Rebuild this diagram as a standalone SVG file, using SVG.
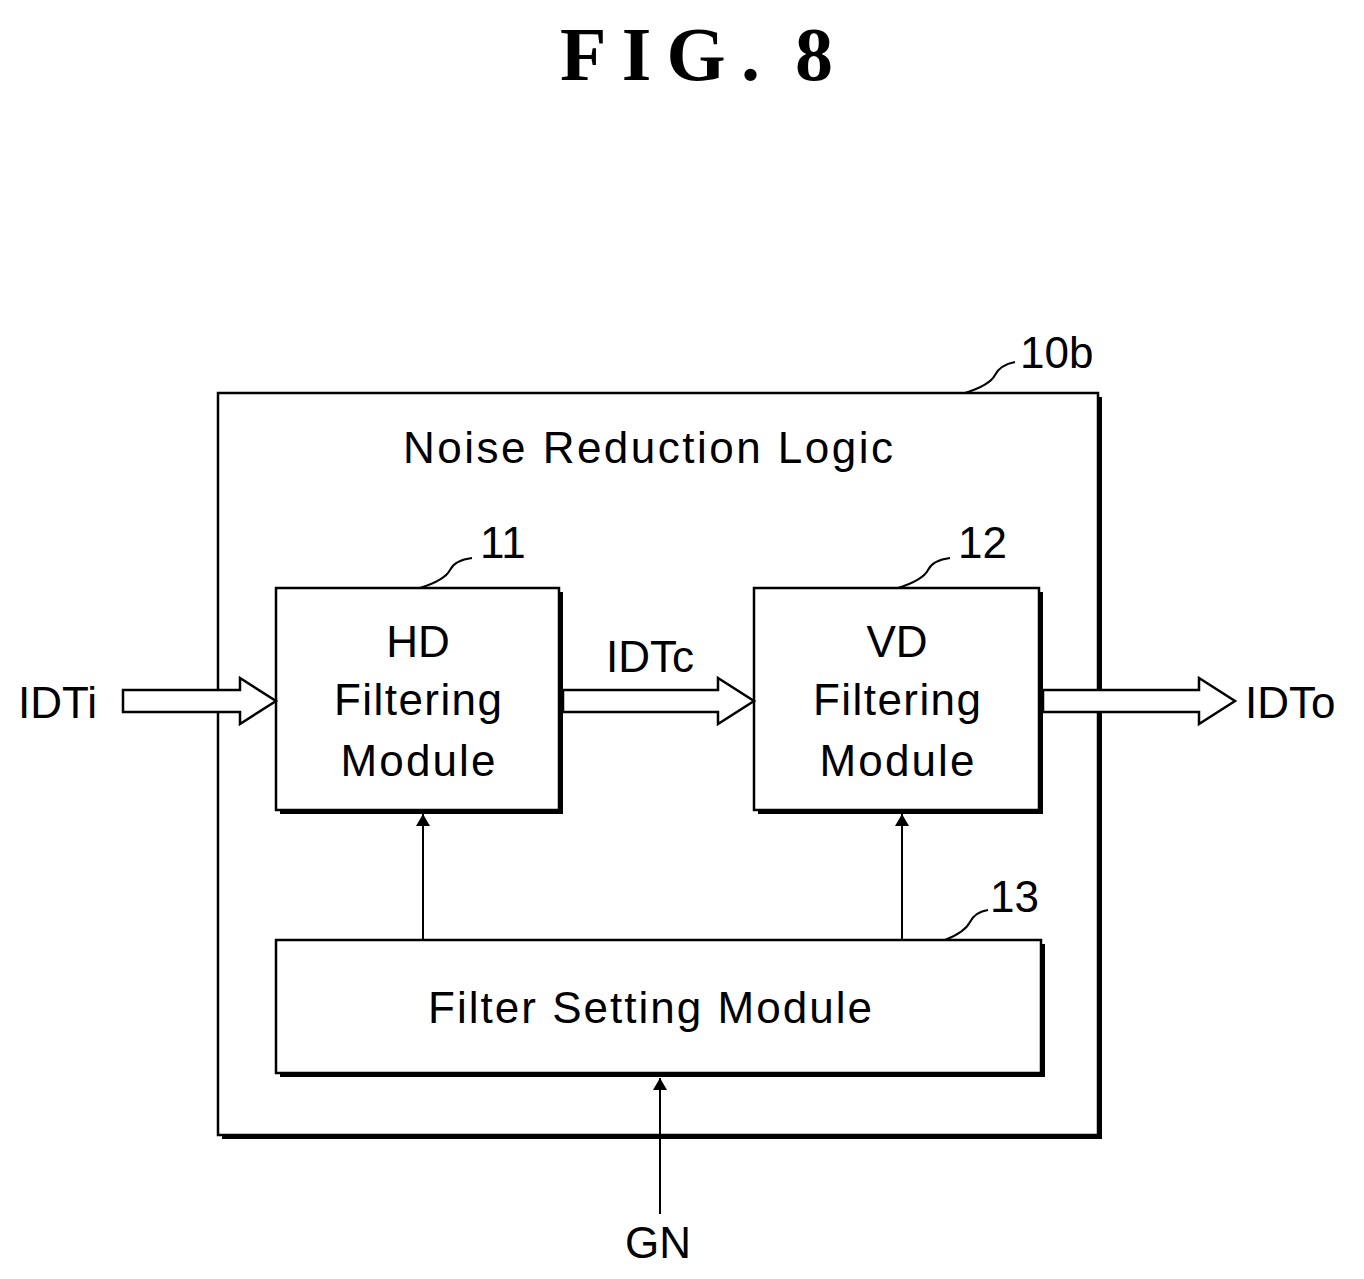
<svg xmlns="http://www.w3.org/2000/svg" width="1364" height="1279" viewBox="0 0 1364 1279">
<defs>
<marker id="ah" markerWidth="14" markerHeight="24" refX="12" refY="12" orient="auto" markerUnits="userSpaceOnUse"><path d="M0,5 L12,12 L0,19 Z" fill="#000"/></marker>
</defs>
<style>
text{font-family:"Liberation Sans",Arial,sans-serif;fill:#000}
.lbl{font-size:44px}
.box{fill:#fff;stroke:#000;stroke-width:2.5}
.sh{fill:none;stroke:#000;stroke-width:4}
.ln{fill:none;stroke:#000;stroke-width:2}
.hol{fill:#fff;stroke:#000;stroke-width:2.5}
.ttl{font-family:"Liberation Serif",serif;font-weight:bold;font-size:76px}
</style>
<rect width="1364" height="1279" fill="#fff"/>
<text x="560" y="80" class="ttl" textLength="200" lengthAdjust="spacing">FIG.</text>
<text x="795" y="80" class="ttl">8</text>
<g id="outer">
<rect class="box" x="218" y="393" width="880" height="742"/>
<path class="sh" d="M1100,397 V1137 H222"/>
<text x="648" y="463" class="lbl" text-anchor="middle" textLength="490" lengthAdjust="spacing">Noise Reduction Logic</text>
<text x="1020" y="368" class="lbl">10b</text>
<path class="ln" d="M965,393 Q990,385 995,375 Q1000,365 1015,362"/>
</g>
<g id="hd">
<rect class="box" x="276" y="588" width="283" height="222"/>
<path class="sh" d="M561,592 V812 H280"/>
<text x="418" y="657" class="lbl" text-anchor="middle">HD</text>
<text x="418" y="715" class="lbl" text-anchor="middle" textLength="168" lengthAdjust="spacing">Filtering</text>
<text x="418" y="776" class="lbl" text-anchor="middle" textLength="155" lengthAdjust="spacing">Module</text>
<text x="480" y="558" class="lbl">11</text>
<path class="ln" d="M420,588 Q445,580 450,570 Q455,560 472,558"/>
</g>
<g id="vd">
<rect class="box" x="754" y="588" width="285" height="222"/>
<path class="sh" d="M1041,592 V812 H758"/>
<text x="897" y="657" class="lbl" text-anchor="middle">VD</text>
<text x="897" y="715" class="lbl" text-anchor="middle" textLength="168" lengthAdjust="spacing">Filtering</text>
<text x="897" y="776" class="lbl" text-anchor="middle" textLength="155" lengthAdjust="spacing">Module</text>
<text x="958" y="558" class="lbl">12</text>
<path class="ln" d="M898,588 Q923,580 928,570 Q933,560 950,558"/>
</g>
<g id="fs">
<rect class="box" x="276" y="940" width="765" height="133"/>
<path class="sh" d="M1043,944 V1075 H280"/>
<text x="650" y="1023" class="lbl" text-anchor="middle" textLength="444" lengthAdjust="spacing">Filter Setting Module</text>
<text x="990" y="912" class="lbl">13</text>
<path class="ln" d="M945,940 Q965,932 970,922 Q975,912 988,910"/>
</g>
<g id="connectors">
<path class="hol" d="M123,690 H240 V678 L276,701 L240,724 V712 H123 Z"/>
<text x="18" y="718" class="lbl">IDTi</text>
<path class="hol" d="M563,690 H718 V678 L754,701 L718,724 V712 H563 Z"/>
<text x="650" y="672" class="lbl" text-anchor="middle">IDTc</text>
<path class="hol" d="M1043,690 H1199 V678 L1235,701 L1199,724 V712 H1043 Z"/>
<text x="1245" y="718" class="lbl">IDTo</text>
<line class="ln" x1="423" y1="940" x2="423" y2="814" marker-end="url(#ah)"/>
<line class="ln" x1="902" y1="940" x2="902" y2="814" marker-end="url(#ah)"/>
<line class="ln" x1="660" y1="1214" x2="660" y2="1078" marker-end="url(#ah)"/>
<text x="658" y="1258" class="lbl" text-anchor="middle">GN</text>
</g>
</svg>
